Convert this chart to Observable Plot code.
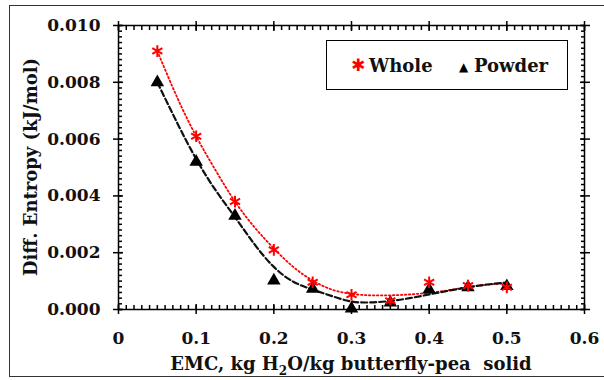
<!DOCTYPE html>
<html>
<head>
<meta charset="utf-8">
<script src="https://cdn.jsdelivr.net/npm/d3@7"></script>
<script src="https://cdn.jsdelivr.net/npm/@observablehq/plot@0.6"></script>
<style>
  body { margin: 0; background: #fff; }
  #wrap { position: relative; width: 604px; height: 380px; overflow: hidden; font-family: "DejaVu Serif", serif; font-weight: bold; color: #111; }
  #chart { position: absolute; left: 0; top: 0; }
  #border { position: absolute; left: 9px; top: 5px; width: 700px; height: 370px; border: 1.5px solid #333; pointer-events: none; }
  .title { position: absolute; font-size: 18px; line-height: 20px; white-space: nowrap; }
  #xtitle { left: 351px; top: 354px; transform: translateX(-50%); }
  #ytitle { left: 31px; top: 167px; transform: translate(-50%, -50%) rotate(-90deg); }
  #legend { position: absolute; left: 326px; top: 40px; width: 240px; height: 48px; border: 1.5px solid #000; background: #fff; }
  #legend span { position: absolute; line-height: 20px; top: 15px; }
  #legend .txt { font-size: 18px; }
  #legend .sym1 { font-family: "DejaVu Sans", sans-serif; color: red; font-size: 17px; left: 24px; top: 14px; }
  #legend .sym2 { font-family: "DejaVu Sans", sans-serif; color: #000; font-size: 12px; left: 132px; top: 16px; }
</style>
</head>
<body>
<div id="wrap">
  <div id="chart"></div>
  <div id="border"></div>
  <div id="legend">
    <span class="sym1">&#x2731;</span>
    <span class="txt" style="left:42px">Whole</span>
    <span class="sym2">&#x25B2;</span>
    <span class="txt" style="left:147px">Powder</span>
  </div>
  <div class="title" id="xtitle">EMC, kg H<sub style="font-size:12px">2</sub>O/kg butterfly-pea&nbsp; solid</div>
  <div class="title" id="ytitle">Diff. Entropy (kJ/mol)</div>
</div>
<script>
// ---- data ----
const emc = [0.05, 0.10, 0.15, 0.20, 0.25, 0.30, 0.35, 0.40, 0.45, 0.50];
const wholeEntropy  = [0.0091, 0.0061, 0.0038, 0.0021, 0.00096, 0.00052, 0.00031, 0.00096, 0.00084, 0.00078];
const powderEntropy = [0.0080, 0.0052, 0.0033, 0.00102, 0.00073, 0.00003, 0.00024, 0.00070, 0.00078, 0.00082];

// trend lines
const trendEmc = [0.05, 0.075, 0.10, 0.125, 0.15, 0.175, 0.20, 0.225, 0.25, 0.275, 0.30, 0.325, 0.35, 0.375, 0.40, 0.425, 0.45, 0.475, 0.50];
const wholeTrend  = [0.0091, 0.0075, 0.0061, 0.0049, 0.0038, 0.0029, 0.00215, 0.0015, 0.00102, 0.0007, 0.00055, 0.0005, 0.0005, 0.00053, 0.00059, 0.00068, 0.00079, 0.00087, 0.00093];
const powderTrend = [0.0080, 0.0066, 0.0053, 0.0042, 0.00325, 0.0023, 0.0015, 0.00098, 0.0007, 0.00047, 0.00028, 0.00025, 0.0003, 0.0004, 0.00053, 0.00066, 0.00078, 0.00088, 0.00095];

// axis ticks
const xMajor = [0, 0.1, 0.2, 0.3, 0.4, 0.5, 0.6];
const xTickLabels = ["0", "0.1", "0.2", "0.3", "0.4", "0.5", "0.6"];
const yMajor = [0, 0.002, 0.004, 0.006, 0.008, 0.010];
const yTickLabels = ["0.000", "0.002", "0.004", "0.006", "0.008", "0.010"];
const xMinorStep = 0.01;
const yMinorStep = 0.0002;

// ---- build tables ----
const whole = emc.map((x, i) => ({x, y: wholeEntropy[i]}));
const powder = emc.map((x, i) => ({x, y: powderEntropy[i]}));
const wholeLine = trendEmc.map((x, i) => ({x, y: wholeTrend[i]}));
const powderLine = trendEmc.map((x, i) => ({x, y: powderTrend[i]}));
const xMinor = d3.range(0, 60.5).map(i => +(i * xMinorStep).toFixed(3));
const yMinor = d3.range(0, 50.5).map(i => +(i * yMinorStep).toFixed(5));

const blank = () => "";
const tk = {label: null, tickFormat: blank, stroke: "#000", strokeWidth: 1.5};

const chart = Plot.plot({
  width: 604, height: 380,
  marginLeft: 118, marginRight: 20, marginTop: 25, marginBottom: 71,
  x: {domain: [0, 0.6]},
  y: {domain: [0, 0.010]},
  style: {fontFamily: "'DejaVu Serif', serif", fontWeight: "bold", fontSize: "17px", color: "#111", background: "transparent", overflow: "visible"},
  marks: [
    // data
    Plot.line(wholeLine, {x: "x", y: "y", stroke: "red", strokeWidth: 1.8, strokeDasharray: "1.5,2.5", curve: "natural"}),
    Plot.line(powderLine, {x: "x", y: "y", stroke: "#111", strokeWidth: 2.2, strokeDasharray: "6,3", curve: "natural"}),
    Plot.dot(powder, {x: "x", y: "y", symbol: "triangle", r: 5, fill: "#000", stroke: "none"}),
    Plot.dot(whole, {x: "x", y: "y", symbol: "asterisk", r: 5.5, stroke: "red", strokeWidth: 2}),
    // minor ticks (inward)
    Plot.axisX({anchor: "bottom", ticks: xMinor, tickSize: 4, dy: -4, ...tk}),
    Plot.axisX({anchor: "top", ticks: xMinor, tickSize: 4, dy: 4, ...tk}),
    Plot.axisY({anchor: "left", ticks: yMinor, tickSize: 4, dx: 4, ...tk}),
    Plot.axisY({anchor: "right", ticks: yMinor, tickSize: 4, dx: -4, ...tk}),
    // major ticks (crossing)
    Plot.axisX({anchor: "bottom", ticks: xMajor, tickSize: 10, dy: -5, ...tk}),
    Plot.axisX({anchor: "top", ticks: xMajor, tickSize: 10, dy: 5, ...tk}),
    Plot.axisY({anchor: "left", ticks: yMajor, tickSize: 10, dx: 5, ...tk}),
    Plot.axisY({anchor: "right", ticks: yMajor, tickSize: 10, dx: -5, ...tk}),
    Plot.frame({stroke: "#000", strokeWidth: 1.5}),
    // tick labels
    Plot.axisX({anchor: "bottom", ticks: xMajor, tickSize: 0, tickPadding: 22, tickFormat: (d, i) => xTickLabels[i], label: null, fill: "#111"}),
    Plot.axisY({anchor: "left", ticks: yMajor, tickSize: 0, tickPadding: 18, tickFormat: (d, i) => yTickLabels[i], label: null, fill: "#111"})
  ]
});
document.getElementById("chart").appendChild(chart);
</script>
</body>
</html>
